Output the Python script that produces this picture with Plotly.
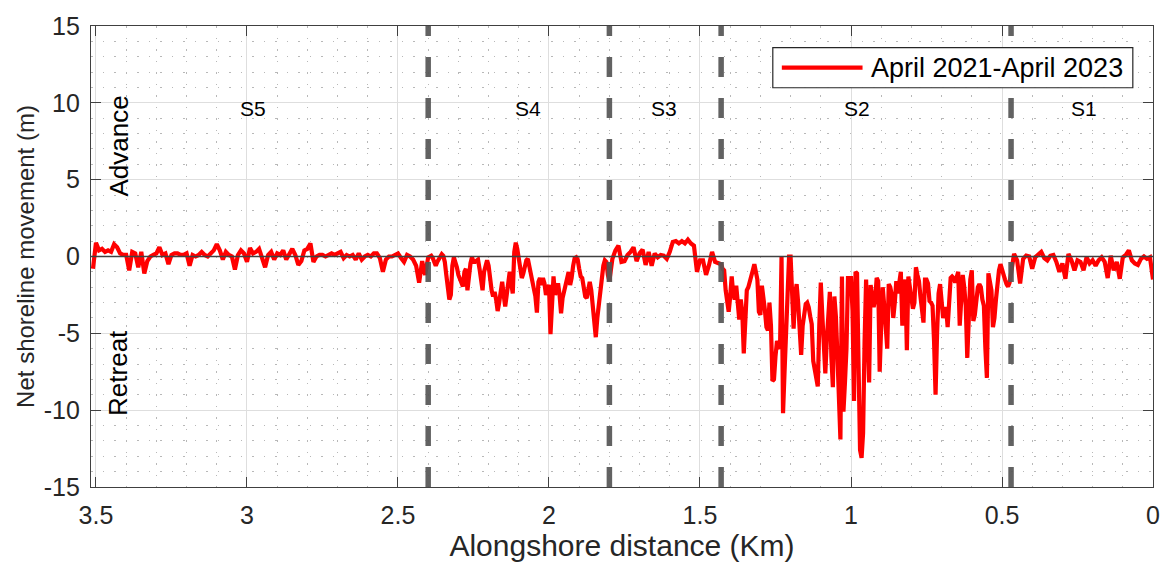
import numpy as np
import plotly.graph_objects as go

# Net shoreline movement (m) along the shore, April 2021 - April 2023.
# Each sector: first transect distance (km), transect spacing (km), values.
s5_start, s5_step = 3.51, 0.01
s5_values = [
    -0.8, 0.9, 0.4, 0.5, 0.3, 0.4, 0.3, 0.8, 0.6, 0.2,
    0.1, 0.1, -0.9, 0.3, 0.2, -0.7, 0.3, -1.1, -0.3, 0.0,
    0.1, 0.2, 0.6, 0.1, 0.2, -0.5, 0.1, 0.2, 0.2, 0.1,
    0.1, 0.2, -0.6, 0.1, 0.0, 0.1, 0.3, 0.1, 0.0, 0.2,
    0.4, 0.8, 0.4, -0.2, 0.3, 0.1, 0.0, -0.85, 0.1, 0.4,
    0.2, -0.35, 0.55, 0.2, 0.3, 0.5, -0.1, -0.7, 0.1, 0.3,
    -0.2, 0.2, 0.1, 0.4, -0.2, 0.2, 0.5, 0.1, -0.55, -0.3,
    0.4, 0.5, 0.85, -0.35, 0.0, 0.1, 0.1, 0.0, 0.1, 0.2,
    0.1, 0.2, 0.3, -0.1, 0.1, 0.0, 0.1, -0.2, 0.2, -0.2,
    0.0, 0.1, 0.0, 0.2, 0.2, -0.1, -1.0, -0.2, 0.0, 0.0,
    0.1, 0.2, -0.1, -0.35, 0.1, 0.0, -0.2, -0.6, -1.7, -0.3,
    -1.2,
]
s4_start, s4_step = 2.40, 0.005
s4_values = [
    -0.05, 0.0, 0.05, -0.1, -0.45, -0.6, -0.35, -0.15, 0.1, 0.15,
    0.05, -0.35, -1.2, -1.95, -2.8, -2.5, -0.6, -0.05, -0.35, -0.7,
    -1.2, -1.5, -1.75, -1.95, -1.0, -0.8, -2.2, -1.2, -0.45, -0.05,
    -0.35, -0.35, -0.25, -0.2, -0.8, -1.65, -2.2, -1.0, -0.45, -0.25,
    -0.6, -1.75, -2.2, -2.6, -2.3, -2.8, -3.55, -3.0, -2.3, -1.65,
    -2.5, -3.25, -2.5, -1.75, -1.0, -1.75, -2.4, 0.3, 0.9, 0.5,
    -0.05, -0.6, -1.4, -1.1, -0.7, -0.25, -0.15, -0.6, -1.0, -1.4,
    -1.95, -2.6, -3.65, -1.65, -1.4, -1.85, -1.4, -1.75, -2.5, -2.05,
    -1.85, -5.05, -2.5, -1.3, -2.5, -2.2, -1.75, -2.5, -3.7, -2.7,
    -2.2, -1.95, -1.2, -1.0, -1.85, -1.4, -0.6, -0.1, -0.05, -0.2,
    -0.8, -1.3, -1.4, -1.95, -2.6, -2.7, -2.3, -1.65, -2.2, -3.35,
    -4.6, -5.25, -4.0, -3.1, -2.2, -1.4, -0.6, -0.25, -0.35, -1.2,
]
s3_start, s3_step = 1.80, 0.01
s3_values = [
    -1.6, -0.15, 0.4, 0.7, -0.35, -0.3, 0.1, 0.3, 0.6, -0.3,
    0.2, 0.45, -0.55, 0.3, -0.6, 0.2, -0.05, 0.1, 0.05, -0.15,
    0.3, 0.95, 1.0, 0.85, 1.0, 0.85, 1.1, 0.85, 0.7, -1.0,
    -0.25, -0.25, -1.2, -0.55, 0.3, -0.35, -0.45,
]
s2_start, s2_step = 1.43, 0.005
s2_values = [
    -0.5, -0.8, -0.9, -2.2, -2.9, -3.6, -2.6, -1.3, -2.4, -2.8,
    -1.9, -3.0, -4.1, -2.8, -3.6, -6.3, -3.5, -2.2, -2.0, -1.7,
    -1.3, -0.9, -0.5, -1.0, -1.5, -3.6, -3.8, -1.9, -2.6, -3.5,
    -4.6, -4.8, -3.0, -4.5, -8.1, -8.0, -6.5, -5.5, -5.8, -6.0,
    0.0, -10.2, -7.5, -4.9, -2.0, 0.0, 0.0, -2.0, -4.7, -2.5,
    -1.8, -3.0, -5.5, -6.4, -4.5, -3.6, -3.1, -3.0, -3.3, -3.9,
    -4.4, -6.8, -7.5, -7.9, -8.45, -4.5, -1.7, -3.8, -6.5, -7.6,
    -5.4, -3.2, -2.3, -6.5, -8.5, -2.6, -3.9, -6.4, -10.0, -11.9,
    -1.3, -10.1, -8.2, -6.0, -1.4, -1.4, -1.4, -3.5, -9.4, -1.0,
    -1.1, -7.0, -12.6, -13.1, -11.5, -5.5, -1.5, -5.0, -8.2, -1.85,
    -2.9, -3.3, -2.8, -1.4, -1.6, -7.5, -4.5, -2.0, -3.2, -4.3,
    -6.0, -1.8, -2.0, -2.5, -4.0, -3.0, -1.6, -2.4, -1.8, -1.0,
    -4.5, -2.0, -1.5, -6.1, -1.3, -2.0, -3.1, -3.4, -3.0, -0.7,
    -1.2, -1.6, -2.6, -3.4, -4.3, -1.5, -1.5, -1.75, -2.9, -3.0,
    -3.2, -5.5, -9.0, -5.0, -2.4, -1.8, -2.8, -4.0, -3.6, -3.3,
    -4.6, -2.4, -1.4, -1.3, -1.4, -1.7, -1.4, -1.0, -4.5, -3.0,
    -1.2, -2.0, -3.2, -6.6, -3.5, -1.5, -0.9, -4.2, -3.8, -2.7,
    -2.0, -1.8, -2.0, -2.8, -3.2, -6.0, -7.9, -1.1, -1.6, -2.2,
    -4.6, -4.0, -2.8, -1.4, -0.9, -0.5, -0.9, -1.2, -1.5, -1.8,
    -1.96, -1.7,
]
s1_start, s1_step = 0.47, 0.01
s1_values = [
    -0.9, 0.17, -0.25, -1.75, -0.15, 0.06, 0.0, -0.8, -0.05, 0.1,
    0.3, -0.1, -0.25, 0.05, 0.1, -0.35, -1.0, -0.45, -1.45, 0.17,
    -0.25, -0.9, -0.25, -0.35, -0.9, -0.05, -0.45, -0.25, -0.6, -0.25,
    -0.05, -0.35, -1.4, 0.05, -0.9, -0.35, -1.45, -0.05, 0.1, 0.4,
    -0.25, -0.45, -0.55, -0.15, 0.0, -0.15, -0.05, -1.5,
]

# Sector boundaries (km) and sector labels
boundaries = [2.40, 1.80, 1.43, 0.47]
sector_names = ["S5", "S4", "S3", "S2", "S1"]
sector_label_x = [2.98, 2.07, 1.62, 0.98, 0.23]
sector_label_y = 9.6

x_tick_vals = [3.5, 3, 2.5, 2, 1.5, 1, 0.5, 0]
x_tick_text = ["3.5", "3", "2.5", "2", "1.5", "1", "0.5", "0"]
y_tick_vals = [-15, -10, -5, 0, 5, 10, 15]
y_tick_text = ["-15", "-10", "-5", "0", "5", "10", "15"]

series_name = "April 2021-April 2023"

sectors = [
    (s5_start, s5_step, s5_values),
    (s4_start, s4_step, s4_values),
    (s3_start, s3_step, s3_values),
    (s2_start, s2_step, s2_values),
    (s1_start, s1_step, s1_values),
]
distance = np.concatenate([s - st * np.arange(len(v)) for s, st, v in sectors])
movement = np.concatenate([np.asarray(v, float) for _, _, v in sectors])

FONT = "Liberation Sans, Arial, Helvetica, sans-serif"
TXT = "#262626"
AX = "#404040"

fig = go.Figure()

fig.add_trace(go.Scatter(
    x=distance, y=movement, mode="lines", name=series_name,
    line=dict(color="#ff0000", width=4.2), showlegend=False,
))

# zero reference line on top of the series
fig.add_trace(go.Scatter(
    x=[3.5165, 0], y=[0, 0], mode="lines",
    line=dict(color="#404040", width=1.6), showlegend=False, hoverinfo="skip",
))

# sector boundaries (dashes start at the bottom of the axes)
for b in boundaries:
    fig.add_trace(go.Scatter(
        x=[b, b], y=[-15, 15], mode="lines",
        line=dict(color="rgba(85,85,85,0.92)", width=5.5, dash="20px,21px"),
        showlegend=False, hoverinfo="skip",
    ))

for name, sx in zip(sector_names, sector_label_x):
    fig.add_annotation(x=sx, y=sector_label_y, text=name, showarrow=False,
                       font=dict(family=FONT, size=21, color="#000000"))

fig.add_annotation(x=3.425, y=7.2, text="Advance", textangle=-90, showarrow=False,
                   font=dict(family=FONT, size=26, color="#000000"))
fig.add_annotation(x=3.425, y=-7.6, text="Retreat", textangle=-90, showarrow=False,
                   font=dict(family=FONT, size=26, color="#000000"))

# legend box drawn in paper coordinates
fig.add_shape(type="rect", xref="paper", yref="paper",
              x0=0.642, x1=0.981, y0=0.866, y1=0.953,
              line=dict(color="#262626", width=1.2), fillcolor="white", layer="above")
fig.add_shape(type="line", xref="paper", yref="paper",
              x0=0.6505, x1=0.7265, y0=0.9095, y1=0.9095,
              line=dict(color="#ff0000", width=4.2), layer="above")
fig.add_annotation(xref="paper", yref="paper", x=0.733, y=0.9095, text=series_name,
                   xanchor="left", yanchor="middle", showarrow=False,
                   font=dict(family=FONT, size=27, color="#000000"))

axis_common = dict(
    showline=True, linecolor=AX, linewidth=1.2, mirror="ticks",
    ticks="inside", ticklen=10, tickcolor=AX, tickwidth=1.2,
    showgrid=True, gridcolor="#dedede", gridwidth=1.2,
    zeroline=False,
    tickfont=dict(family=FONT, size=25, color=TXT),
)

fig.update_xaxes(
    range=[3.5165, 0], tickmode="array", tickvals=x_tick_vals, ticktext=x_tick_text,
    ticklabelstandoff=6,
    title=dict(text="Alongshore distance (Km)", font=dict(family=FONT, size=30, color=TXT),
               standoff=3),
    minor=dict(dtick=0.1, tick0=0, showgrid=True, gridcolor="#b8b8b8",
               griddash="1.5px,10px", gridwidth=1.2, ticks=""),
    **axis_common,
)
fig.update_yaxes(
    range=[-15, 15], tickmode="array", tickvals=y_tick_vals, ticktext=y_tick_text,
    ticklabelstandoff=5,
    title=dict(text="Net shoreline movement (m)", font=dict(family=FONT, size=24, color=TXT),
               standoff=2),
    minor=dict(dtick=1, tick0=0, showgrid=True, gridcolor="#b8b8b8",
               griddash="1.5px,10px", gridwidth=1.2, ticks=""),
    **axis_common,
)

fig.update_layout(
    width=1172, height=566,
    margin=dict(l=91, r=14, t=18, b=79),
    paper_bgcolor="white", plot_bgcolor="white",
    font=dict(family=FONT, color=TXT),
    showlegend=False,
)

fig.write_html("out.html")
